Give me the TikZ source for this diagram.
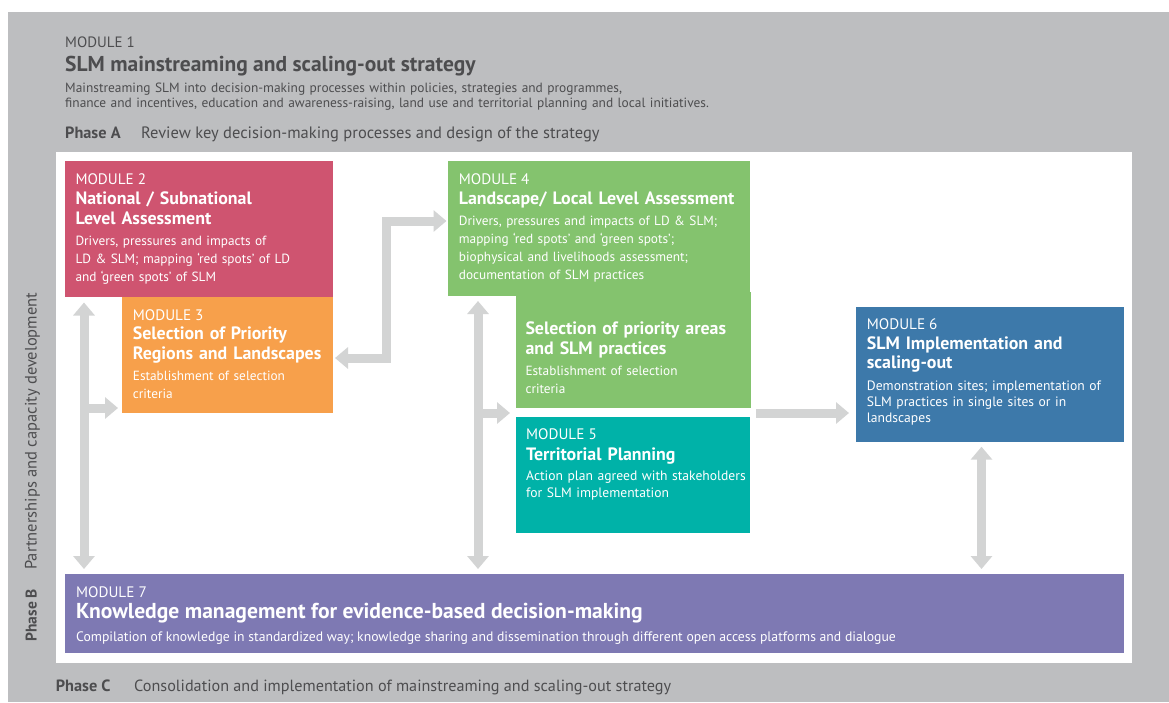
\documentclass[tikz,border=0pt]{standalone}
\usepackage{fontspec}
\setmainfont{PT Sans}
\usetikzlibrary{arrows.meta}
\definecolor{outergray}{HTML}{BDBEC0}
\definecolor{arrowgray}{HTML}{D3D4D4}
\definecolor{hdr}{HTML}{4D4D4F}
\definecolor{cmtwo}{HTML}{CF5470}
\definecolor{cmthree}{HTML}{F7A04B}
\definecolor{cmfour}{HTML}{84C36E}
\definecolor{cmfive}{HTML}{00B2A8}
\definecolor{cmsix}{HTML}{3D79AA}
\definecolor{cmseven}{HTML}{7E79B3}
\tikzset{
  box/.style={anchor=north west, inner sep=0pt, outer sep=0pt, draw=none},
  garrow/.style={draw=arrowgray, line width=9pt, -{Triangle[length=13pt,width=21pt]}},
  garrowboth/.style={draw=arrowgray, line width=9pt, {Triangle[length=13pt,width=21pt]}-{Triangle[length=13pt,width=21pt]}},
  modlab/.style={anchor=base west, inner sep=0pt, text=white, font=\fontsize{15.2}{17}\selectfont},
  modtitle/.style={anchor=base west, inner sep=0pt, text=white, align=left, text width=320pt, font=\bfseries\fontsize{17.9}{20}\selectfont},
  moddesc/.style={anchor=base west, inner sep=0pt, text=white, align=left, text width=320pt, font=\fontsize{13.3}{18}\selectfont},
  hdrtext/.style={anchor=base west, inner sep=0pt, text=hdr},
}
\begin{document}
\begin{tikzpicture}[x=1pt,y=-1pt]
\useasboundingbox (0,0) rectangle (1169,702);
% frames
\fill[outergray] (8,12) rectangle (1169,702);
\fill[white] (56,152) rectangle (1132,663);

% header
\node[hdrtext, font=\fontsize{15}{17}\selectfont] (h1) at (65,47.7) {MODULE 1};
\node[hdrtext, font=\bfseries\fontsize{21.5}{24}\selectfont] (h2) at (65,71) {SLM mainstreaming and scaling-out strategy};
\node[hdrtext, align=left, text width=900pt, font=\fontsize{13.4}{15}\selectfont] (h3) at (65,92) {Mainstreaming SLM into decision-making processes within policies, strategies and programmes,\\finance and incentives, education and awareness-raising, land use and territorial planning and local initiatives.};
\node[hdrtext, font=\bfseries\fontsize{16.3}{18}\selectfont] (pha) at (65,138) {Phase A};
\node[hdrtext, font=\fontsize{16.5}{18}\selectfont] (phat) at (141,138) {Review key decision-making processes and design of the strategy};

% boxes
\node[box, fill=cmtwo, minimum width=268pt, minimum height=136pt] (m2) at (65,161) {};
\node[box, fill=cmthree, minimum width=211pt, minimum height=115.5pt] (m3) at (122,297) {};
\node[box, fill=cmfour, minimum width=302pt, minimum height=135pt] (m4) at (448,161) {};
\node[box, fill=cmfour, minimum width=235pt, minimum height=115.5pt] (sel) at (516,292) {};
\node[box, fill=cmfive, minimum width=234pt, minimum height=115.5pt] (m5) at (516,417) {};
\node[box, fill=cmsix, minimum width=268pt, minimum height=134.7pt] (m6) at (856,307) {};
\node[box, fill=cmseven, minimum width=1059pt, minimum height=79pt] (m7) at (65,574) {};

% module 2
\node[modlab] (m2a) at (75.3,184) {MODULE 2};
\node[modtitle] (m2b) at (75.3,204.3) {National / Subnational\\Level Assessment};
\node[moddesc] (m2c) at (75.3,245.7) {Drivers, pressures and impacts of\\LD \& SLM; mapping ‘red spots’ of LD\\and ‘green spots’ of SLM};
% module 3
\node[modlab] (m3a) at (132.7,320) {MODULE 3};
\node[modtitle] (m3b) at (132.7,339.3) {Selection of Priority\\Regions and Landscapes};
\node[moddesc] (m3c) at (132.7,380.7) {Establishment of selection\\criteria};
% module 4
\node[modlab] (m4a) at (458.7,184) {MODULE 4};
\node[modtitle] (m4b) at (458.7,204) {Landscape/ Local Level Assessment};
\node[moddesc] (m4c) at (458.7,225) {Drivers, pressures and impacts of LD \& SLM;\\mapping ‘red spots’ and ‘green spots’;\\biophysical and livelihoods assessment;\\documentation of SLM practices};
% selection
\node[modtitle] (selb) at (525.3,334.3) {Selection of priority areas\\and SLM practices};
\node[moddesc] (selc) at (525.3,375) {Establishment of selection\\criteria};
% module 5
\node[modlab] (m5a) at (526,439.3) {MODULE 5};
\node[modtitle] (m5b) at (526,460) {Territorial Planning};
\node[moddesc, font=\fontsize{13.6}{17.3}\selectfont] (m5c) at (526,480) {Action plan agreed with stakeholders\\for SLM implementation};
% module 6
\node[modlab] (m6a) at (866.7,329) {MODULE 6};
\node[modtitle, font=\bfseries\fontsize{17.9}{19.5}\selectfont] (m6b) at (866.7,349.3) {SLM Implementation and\\scaling-out};
\node[moddesc, font=\fontsize{13.6}{16.3}\selectfont] (m6c) at (866.7,390) {Demonstration sites; implementation of\\SLM practices in single sites or in\\landscapes};
% module 7
\node[modlab] (m7a) at (76,597) {MODULE 7};
\node[modlab, font=\bfseries\fontsize{21.6}{24}\selectfont] (m7b) at (76,618) {Knowledge management for evidence-based decision-making};
\node[modlab, font=\fontsize{13.7}{15}\selectfont] (m7c) at (76,641) {Compilation of knowledge in standardized way; knowledge sharing and dissemination through different open access platforms and dialogue};

% phase B and C
\node[hdrtext, rotate=90, font=\bfseries\fontsize{15.5}{17}\selectfont] (phb) at (36.7,641.7) {Phase B};
\node[hdrtext, rotate=90, font=\fontsize{16.5}{18}\selectfont] (pcd) at (36.7,570) {Partnerships and capacity development};
\node[hdrtext, font=\bfseries\fontsize{16.3}{18}\selectfont] (phc) at (55.7,691.7) {Phase C};
\node[hdrtext, font=\fontsize{16.2}{18}\selectfont] (phct) at (134,691.7) {Consolidation and implementation of mainstreaming and scaling-out strategy};

% arrows
\draw[garrowboth, shorten <=5.5pt, shorten >=5pt] (84,0 |- m2.south) -- (84,0 |- m7.north);
\draw[garrow, shorten >=4pt] (84,408) -- (m3.west |- 0,408);
\draw[garrowboth, line join=miter, shorten <=2pt, shorten >=1.5pt] (m3.east |- 0,358) -- (386,358) -- (386,221) -- (m4.west |- 0,221);
\draw[garrowboth, shorten <=5pt, shorten >=5pt] (478,0 |- m4.south) -- (478,0 |- m7.north);
\draw[garrow, shorten >=6pt] (478,413) -- (sel.west |- 0,413);
\draw[garrow, shorten <=5pt, shorten >=7pt] (sel.east |- 0,413) -- (m6.west |- 0,413);
\draw[garrowboth, shorten <=5pt, shorten >=5pt] (981.5,0 |- m6.south) -- (981.5,0 |- m7.north);
\end{tikzpicture}
\end{document}
